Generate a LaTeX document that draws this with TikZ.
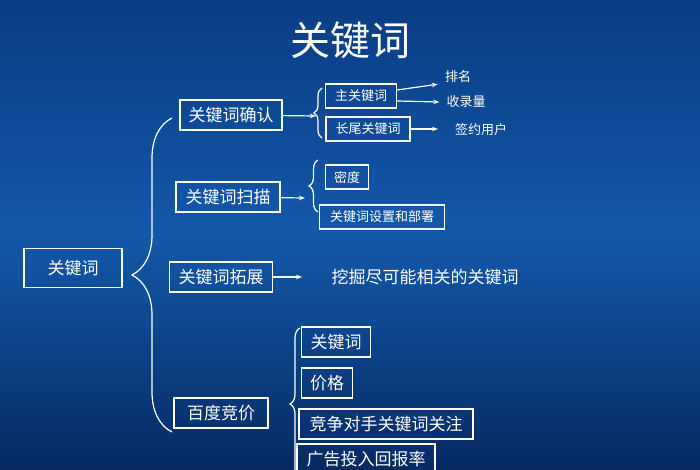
\documentclass[tikz,border=0pt]{standalone}
\usepackage{fontspec}
\setmainfont{Noto Sans CJK SC}
\usetikzlibrary{arrows.meta,decorations.pathreplacing}
\definecolor{bgtop}{HTML}{0A3C84}
\definecolor{bgmid}{HTML}{1458AA}
\definecolor{bgbot}{HTML}{062A62}
\tikzset{
  box/.style  = {draw=white, line width=1.2pt, text=white, inner sep=4pt, minimum height=30pt, font=\fontsize{17}{17}\selectfont},
  sbox/.style = {draw=white, line width=1.2pt, text=white, inner sep=3pt, minimum height=24pt, font=\fontsize{13}{13}\selectfont},
  leaf/.style = {text=white, inner sep=1pt, font=\fontsize{13}{13}\selectfont},
  link/.style = {draw=white, line width=1.2pt, -{Stealth[length=6pt]}},
  curly/.style = {draw=white, line width=1.2pt, decorate, decoration={brace, amplitude=#1}}
}
\begin{document}
\begin{tikzpicture}[x=1pt, y=-1pt]
    \shade[top color=bgtop, bottom color=bgbot, middle color=bgmid] (0,0) rectangle (700,470);
    \useasboundingbox (0,0) rectangle (700,470);
    \node[text=white, font=\fontsize{40}{40}\selectfont] (title) at (350,40) {关键词};
    % root and first level
    \node[box, minimum width=98pt, minimum height=39pt] (root) at (73,268) {关键词};
    \node[box, minimum width=102pt] (confirm) at (231,115) {关键词确认};
    \node[box, minimum width=104pt] (scan) at (228,197) {关键词扫描};
    \node[box, minimum width=103pt] (expand) at (221,277) {关键词拓展};
    \node[box, minimum width=94pt] (bid) at (221,413) {百度竞价};
    \draw[curly=40pt] (172,432) -- (172,118);
    % keyword confirm
    \draw[curly=8pt] (322,138) -- (322,88);
    \coordinate (cb) at (316,116);
    \draw[link] (confirm) -- (cb);
    \node[sbox, minimum width=71pt] (main) at (361,96) {主关键词};
    \node[sbox, minimum width=84pt] (longtail) at (368,129) {长尾关键词};
    \node[leaf] (rank) at (458,77) {排名};
    \node[leaf] (index) at (466,102) {收录量};
    \node[leaf] (sign) at (481,130) {签约用户};
    \draw[link] ([yshift=6pt]main.east) -- ([xshift=-6pt]rank.south west);
    \draw[link] ([yshift=-5pt]main.east) -- ([xshift=-6pt]index.west);
    \draw[link] (longtail) -- ++(70,0);
    % keyword scan
    \draw[curly=9pt] (318,212) -- (318,160);
    \coordinate (sb) at (305,198);
    \draw[link] (scan) -- (sb);
    \node[sbox, minimum width=43pt] (density) at (347,177) {密度};
    \node[sbox, minimum width=125pt] (deploy) at (382,217) {关键词设置和部署};
    % keyword expand
    \node[text=white, font=\fontsize{17}{17}\selectfont] (mine) at (425,277) {挖掘尽可能相关的关键词};
    \coordinate (eb) at (302,277);
    \draw[link] (expand) -- (eb);
    % bidding
    \draw[curly=10pt] (300,480) -- (300,328);
    \node[box, minimum width=69pt] (kw) at (336,342) {关键词};
    \node[box, minimum width=51pt] (price) at (327,383) {价格};
    \node[box, minimum width=174pt] (rival) at (386,424) {竞争对手关键词关注};
    \node[box, minimum width=138pt] (roi) at (366,459) {广告投入回报率};
\end{tikzpicture}
\end{document}
